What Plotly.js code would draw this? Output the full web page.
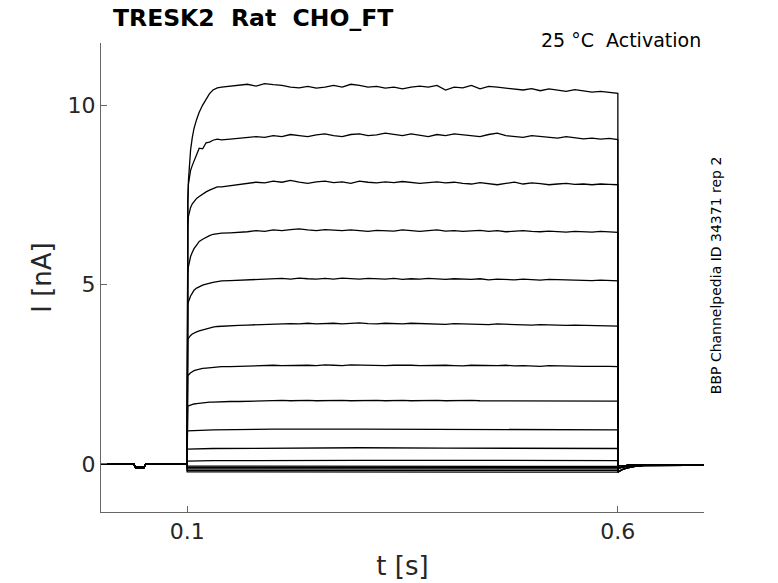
<!DOCTYPE html>
<html>
<head>
<meta charset="utf-8">
<script src="https://cdn.plot.ly/plotly-3.0.1.min.js"></script>
<style>
  html, body { margin: 0; padding: 0; background: #fff; }
  #chart { width: 778px; height: 583px; }
</style>
</head>
<body>
<div id="chart"></div>
<script>
// holding level before the step, with the small prepulse notch
var tPre = [0, 0.038, 0.04, 0.05, 0.052, 0.1];
var iPre = [0, 0, -0.1, -0.1, 0, 0];

// time base of the voltage step (s)
var tStep = [0.1, 0.1004, 0.1008, 0.1015, 0.1025, 0.104, 0.106, 0.108, 0.111, 0.114, 0.118, 0.122, 0.126, 0.13, 0.135, 0.14,
    0.15, 0.16, 0.17, 0.18, 0.19, 0.2, 0.21, 0.22, 0.23, 0.24,
    0.25, 0.26, 0.27, 0.28, 0.29, 0.3, 0.31, 0.32, 0.33, 0.34,
    0.35, 0.36, 0.37, 0.38, 0.39, 0.4, 0.41, 0.42, 0.43, 0.44,
    0.45, 0.46, 0.47, 0.48, 0.49, 0.5, 0.51, 0.52, 0.53, 0.54,
    0.55, 0.56, 0.57, 0.58, 0.59, 0.6];

// large sweeps (nA)
var sweep1 = [0.2, 5.5, 7.2, 7.9, 8.35, 8.75, 9.1, 9.35, 9.6, 9.8, 10.0, 10.18, 10.32, 10.42, 10.48, 10.5,
    10.52, 10.55, 10.58, 10.53, 10.6, 10.57, 10.55, 10.5, 10.48, 10.52,
    10.47, 10.5, 10.55, 10.5, 10.58, 10.55, 10.5, 10.52, 10.47, 10.5,
    10.45, 10.5, 10.53, 10.5, 10.55, 10.42, 10.5, 10.48, 10.55, 10.45,
    10.52, 10.5, 10.47, 10.45, 10.42, 10.46, 10.4, 10.45, 10.42, 10.38,
    10.43, 10.4, 10.36, 10.38, 10.35, 10.33];
var sweep2 = [0.2, 6.5, 7.4, 7.8, 8.0, 8.18, 8.32, 8.45, 8.6, 8.8, 8.78, 8.95, 8.97, 9.02, 9.05, 9.03,
    9.05, 9.08, 9.1, 9.12, 9.1, 9.15, 9.12, 9.18, 9.15, 9.12,
    9.17, 9.2, 9.15, 9.12, 9.18, 9.2, 9.15, 9.17, 9.22, 9.18,
    9.15, 9.2, 9.17, 9.12, 9.18, 9.15, 9.2, 9.17, 9.15, 9.12,
    9.18, 9.22, 9.15, 9.13, 9.1, 9.15, 9.12, 9.1, 9.08, 9.12,
    9.1, 9.06, 9.08, 9.05, 9.07, 9.04];
var sweep3 = [0.2, 5.5, 6.6, 6.9, 7.05, 7.15, 7.25, 7.32, 7.4, 7.45, 7.52, 7.58, 7.63, 7.68, 7.72, 7.72,
    7.75, 7.78, 7.8, 7.85, 7.83, 7.88, 7.85, 7.9, 7.85, 7.82,
    7.86, 7.88, 7.84, 7.86, 7.82, 7.88, 7.85, 7.83, 7.86, 7.84,
    7.87, 7.85, 7.82, 7.84, 7.86, 7.83, 7.85, 7.82, 7.8, 7.84,
    7.82, 7.78, 7.82, 7.85, 7.8, 7.83, 7.81, 7.78, 7.8, 7.82,
    7.79, 7.8, 7.78, 7.8, 7.79, 7.78];
var sweep4 = [0.2, 4.8, 5.3, 5.5, 5.65, 5.78, 5.9, 6.0, 6.1, 6.2, 6.26, 6.32, 6.36, 6.4, 6.42, 6.43,
    6.44, 6.45, 6.47, 6.5, 6.48, 6.52, 6.5, 6.53, 6.55, 6.52,
    6.5, 6.53, 6.51, 6.5, 6.52, 6.5, 6.48, 6.51, 6.5, 6.49,
    6.52, 6.5, 6.48, 6.5, 6.52, 6.49, 6.5, 6.48, 6.5, 6.51,
    6.48, 6.5, 6.47, 6.49, 6.5, 6.48, 6.47, 6.49, 6.48, 6.46,
    6.48, 6.47, 6.46, 6.48, 6.46, 6.45];
var sweep5 = [0.2, 4.3, 4.45, 4.52, 4.6, 4.68, 4.76, 4.84, 4.9, 4.94, 4.98, 5.01, 5.04, 5.06, 5.08, 5.1,
    5.11, 5.12, 5.14, 5.13, 5.16, 5.15, 5.17, 5.15, 5.18, 5.16,
    5.15, 5.17, 5.15, 5.18, 5.16, 5.15, 5.17, 5.16, 5.15, 5.17,
    5.14, 5.16, 5.15, 5.17, 5.15, 5.14, 5.16, 5.15, 5.14, 5.16,
    5.13, 5.15, 5.14, 5.13, 5.15, 5.14, 5.12, 5.14, 5.13, 5.12,
    5.13, 5.12, 5.11, 5.12, 5.11, 5.1];
var sweep6 = [0.2, 3.4, 3.45, 3.5, 3.54, 3.58, 3.62, 3.65, 3.68, 3.71, 3.74, 3.77, 3.79, 3.81, 3.83, 3.84,
    3.85, 3.86, 3.87, 3.88, 3.88, 3.9, 3.89, 3.91, 3.9, 3.92,
    3.9, 3.91, 3.92, 3.9, 3.91, 3.93, 3.91, 3.9, 3.92, 3.91,
    3.9, 3.92, 3.91, 3.9, 3.91, 3.89, 3.91, 3.9, 3.89, 3.9,
    3.88, 3.9, 3.89, 3.88, 3.89, 3.87, 3.88, 3.87, 3.88, 3.86,
    3.87, 3.86, 3.85, 3.86, 3.85, 3.84];
var sweep7 = [0.1, 2.42, 2.45, 2.48, 2.51, 2.54, 2.57, 2.6, 2.62, 2.64, 2.66, 2.67, 2.68, 2.69, 2.7, 2.71,
    2.71, 2.72, 2.73, 2.73, 2.74, 2.75, 2.74, 2.75, 2.76, 2.75,
    2.74, 2.76, 2.75, 2.74, 2.76, 2.75, 2.76, 2.75, 2.74, 2.75,
    2.76, 2.75, 2.74, 2.75, 2.74, 2.75, 2.74, 2.73, 2.75, 2.74,
    2.73, 2.74, 2.75, 2.73, 2.74, 2.73, 2.72, 2.74, 2.73, 2.72,
    2.73, 2.72, 2.72, 2.73, 2.72, 2.71];
var sweep8 = [0.1, 1.6, 1.61, 1.62, 1.63, 1.65, 1.66, 1.67, 1.68, 1.69, 1.7, 1.71, 1.72, 1.72, 1.73, 1.73,
    1.74, 1.74, 1.75, 1.75, 1.76, 1.76, 1.77, 1.76, 1.77, 1.77,
    1.76, 1.77, 1.78, 1.77, 1.76, 1.77, 1.78, 1.77, 1.76, 1.77,
    1.77, 1.76, 1.77, 1.78, 1.77, 1.76, 1.77, 1.76, 1.77, 1.76,
    1.76, 1.77, 1.76, 1.75, 1.76, 1.77, 1.76, 1.75, 1.76, 1.75,
    1.76, 1.75, 1.75, 1.76, 1.75, 1.75];

// small sweeps on a coarse time base
var tFlat = [0.1, 0.1004, 0.13, 0.2, 0.3, 0.4, 0.5, 0.6];
var sweep9  = [0.9, 0.92, 0.95, 0.97, 0.97, 0.96, 0.96, 0.95];
var sweep10 = [0.4, 0.41, 0.43, 0.44, 0.45, 0.44, 0.44, 0.43];
var sweep11 = [0.07, 0.08, 0.09, 0.1, 0.1, 0.1, 0.09, 0.09];
var sweep12 = [-0.05, -0.06, -0.06, -0.06, -0.07, -0.06, -0.06, -0.07];
var sweep13 = [-0.1, -0.1, -0.11, -0.1, -0.1, -0.11, -0.1, -0.1];
var sweep14 = [-0.14, -0.14, -0.14, -0.15, -0.14, -0.14, -0.15, -0.14];
var sweep15 = [-0.18, -0.18, -0.19, -0.18, -0.18, -0.18, -0.19, -0.18];
var sweep16 = [-0.22, -0.22, -0.22, -0.23, -0.22, -0.22, -0.22, -0.23];

// tail currents after the step
var tPost = [0.6, 0.6005, 0.602, 0.605, 0.61, 0.615, 0.62, 0.63, 0.65, 0.68, 0.7];
var postBig   = [-0.18, -0.22, -0.2, -0.16, -0.12, -0.09, -0.07, -0.05, -0.04, -0.04, -0.04];
var postMid   = [-0.1, -0.12, -0.11, -0.09, -0.07, -0.06, -0.05, -0.04, -0.03, -0.03, -0.03];
var postSmall = [-0.04, -0.05, -0.05, -0.04, -0.04, -0.03, -0.03, -0.02, -0.02, -0.02, -0.02];

var xTicks = [0.1, 0.6];
var yTicks = [0, 5, 10];

function makeSweep(tMid, iMid, iPost) {
    return {
        x: tPre.concat(tMid, tPost),
        y: iPre.concat(iMid, iPost),
        mode: 'lines',
        line: { color: '#000', width: 1.3 },
        hoverinfo: 'skip',
        showlegend: false
    };
}

var data = [
    makeSweep(tStep, sweep1, postBig),
    makeSweep(tStep, sweep2, postBig),
    makeSweep(tStep, sweep3, postBig),
    makeSweep(tStep, sweep4, postBig),
    makeSweep(tStep, sweep5, postMid),
    makeSweep(tStep, sweep6, postMid),
    makeSweep(tStep, sweep7, postMid),
    makeSweep(tStep, sweep8, postMid),
    makeSweep(tFlat, sweep9, postSmall),
    makeSweep(tFlat, sweep10, postSmall),
    makeSweep(tFlat, sweep11, postSmall),
    makeSweep(tFlat, sweep12, postSmall),
    makeSweep(tFlat, sweep13, postSmall),
    makeSweep(tFlat, sweep14, postSmall),
    makeSweep(tFlat, sweep15, postSmall),
    makeSweep(tFlat, sweep16, postSmall)
];

var font = 'DejaVu Sans, sans-serif';

var layout = {
    width: 778,
    height: 583,
    paper_bgcolor: '#fff',
    plot_bgcolor: '#fff',
    font: { family: font, color: '#262626' },
    margin: { l: 101, r: 74, t: 43, b: 71 },
    title: {
        text: 'TRESK2  Rat  CHO_FT',
        font: { family: font, size: 23.5, weight: 'bold', color: '#000' },
        x: 113 / 778, xanchor: 'left', xref: 'container',
        y: 1 - 18 / 583, yanchor: 'middle', yref: 'container'
    },
    xaxis: {
        range: [0, 0.7],
        tickvals: xTicks,
        ticktext: ['0.1', '0.6'],
        ticks: 'inside', ticklen: 6, tickcolor: '#666',
        showline: true, linecolor: '#666', linewidth: 1,
        showgrid: false, zeroline: false,
        tickfont: { size: 22, color: '#262626' },
        title: { text: 't [s]', font: { size: 26, color: '#262626' }, standoff: 13 }
    },
    yaxis: {
        range: [-1.34, 11.73],
        tickvals: yTicks,
        ticks: 'inside', ticklen: 6, tickcolor: '#666',
        showline: true, linecolor: '#666', linewidth: 1,
        showgrid: false, zeroline: false,
        tickfont: { size: 22, color: '#262626' },
        title: { text: 'I [nA]', font: { size: 26, color: '#262626' }, standoff: 8 }
    },
    annotations: [
        {
            text: '25 °C  Activation',
            xref: 'paper', yref: 'paper',
            x: 0.998, y: 1.006, xanchor: 'right', yanchor: 'middle',
            showarrow: false,
            font: { family: font, size: 19, color: '#000' }
        },
        {
            text: 'BBP Channelpedia ID 34371 rep 2',
            xref: 'paper', yref: 'paper',
            x: 1.02, y: 0.505, xanchor: 'center', yanchor: 'middle',
            textangle: -90,
            showarrow: false,
            font: { family: font, size: 14, color: '#000' }
        }
    ]
};

Plotly.newPlot('chart', data, layout, { displayModeBar: false, staticPlot: true });
</script>
</body>
</html>
